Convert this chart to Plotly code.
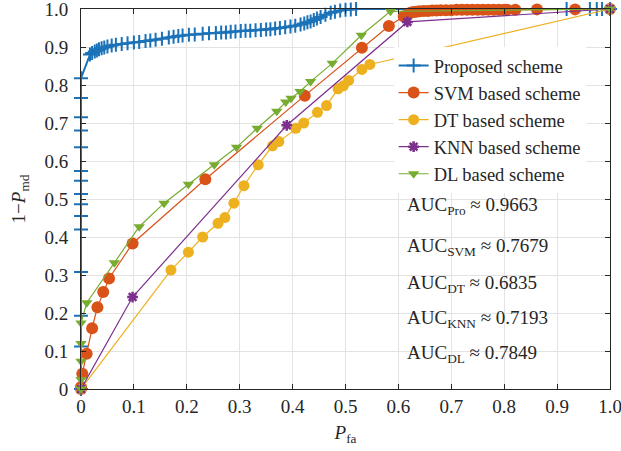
import plotly.graph_objects as go

# ---------------- data ----------------
pro_x = [0, 0, 0, 0, 0, 0, 0, 0, 0, 0, 0, 0, 0, 0, 0,
         0.017, 0.021, 0.026, 0.030, 0.034, 0.039, 0.044, 0.050, 0.058, 0.066,
         0.077, 0.088, 0.100, 0.110, 0.122, 0.131, 0.141, 0.153, 0.166, 0.175,
         0.184, 0.192, 0.204, 0.215, 0.230, 0.242, 0.255, 0.265, 0.274, 0.283,
         0.292, 0.302, 0.311, 0.320, 0.330, 0.340, 0.350, 0.358, 0.367, 0.376,
         0.386, 0.396, 0.405, 0.415, 0.422, 0.428, 0.434, 0.440, 0.446, 0.453,
         0.462, 0.472, 0.480, 0.490, 0.500, 0.510, 0.520, 0.918, 0.962, 0.975,
         0.985, 1.0]
pro_y = [0, 0.112, 0.193, 0.308, 0.420, 0.455, 0.486, 0.513, 0.548, 0.574, 0.636, 0.680, 0.715, 0.766, 0.818,
         0.880, 0.884, 0.888, 0.891, 0.894, 0.897, 0.899, 0.901, 0.904, 0.906,
         0.908, 0.910, 0.912, 0.913, 0.916, 0.917, 0.919, 0.922, 0.925, 0.927,
         0.929, 0.930, 0.932, 0.933, 0.935, 0.936, 0.937, 0.938, 0.938, 0.940,
         0.941, 0.942, 0.943, 0.943, 0.944, 0.945, 0.946, 0.947, 0.949, 0.950,
         0.952, 0.954, 0.956, 0.959, 0.962, 0.965, 0.967, 0.971, 0.975, 0.979,
         0.985, 0.990, 0.993, 0.996, 0.998, 0.999, 1.0, 1.0, 1.0, 1.0,
         1.0, 1.0]

svm_x = [0, 0, 0.0025, 0.0107, 0.021, 0.031, 0.042, 0.053, 0.0975, 0.235, 0.423, 0.531, 0.582,
         0.610, 0.618, 0.623, 0.628, 0.634, 0.640, 0.648, 0.656, 0.664, 0.672, 0.680, 0.690,
         0.700, 0.710, 0.720, 0.730, 0.740, 0.750, 0.760, 0.770, 0.780, 0.790, 0.800, 0.805,
         0.821, 0.862, 0.934, 1.0]
svm_y = [0, 0.005, 0.040, 0.093, 0.160, 0.215, 0.255, 0.291, 0.383, 0.552, 0.772, 0.898, 0.955,
         0.980, 0.986, 0.990, 0.992, 0.993, 0.994, 0.995, 0.995, 0.996, 0.996, 0.997, 0.997,
         0.997, 0.998, 0.998, 0.998, 0.998, 0.998, 0.998, 0.998, 0.998, 0.998, 0.998, 0.998,
         0.998, 0.999, 0.999, 1.0]

dt_x = [0, 0.170, 0.203, 0.230, 0.259, 0.272, 0.289, 0.308, 0.335, 0.362, 0.374, 0.406,
        0.421, 0.447, 0.464, 0.486, 0.496, 0.506, 0.531, 0.546, 1.0]
dt_y = [0, 0.313, 0.360, 0.400, 0.436, 0.451, 0.489, 0.535, 0.590, 0.640, 0.651, 0.686,
        0.700, 0.728, 0.746, 0.790, 0.798, 0.812, 0.841, 0.854, 1.0]

knn_x = [0, 0.0975, 0.389, 0.617, 1.0]
knn_y = [0, 0.242, 0.694, 0.966, 1.0]

dl_x = [0, 0, 0, 0, 0, 0.011, 0.063, 0.110, 0.157, 0.203, 0.252, 0.294, 0.333, 0.370,
        0.387, 0.397, 0.414, 0.434, 0.475, 0.530, 0.585, 1.0]
dl_y = [0, 0.025, 0.073, 0.120, 0.174, 0.227, 0.332, 0.427, 0.489, 0.539, 0.590, 0.636, 0.686, 0.731,
        0.755, 0.765, 0.783, 0.809, 0.857, 0.931, 0.994, 1.0]

tick_vals = [0, 0.1, 0.2, 0.3, 0.4, 0.5, 0.6, 0.7, 0.8, 0.9, 1.0]
tick_text = ["0", "0.1", "0.2", "0.3", "0.4", "0.5", "0.6", "0.7", "0.8", "0.9", "1.0"]

names = ["Proposed scheme", "SVM based scheme", "DT based scheme", "KNN based scheme", "DL based scheme"]
auc_labels = ["Pro", "SVM", "DT", "KNN", "DL"]
auc_values = ["0.9663", "0.7679", "0.6835", "0.7193", "0.7849"]

# ---------------- figure ----------------
FONT = "Liberation Serif, Times New Roman, serif"
TXT = "#262626"
C_BLUE, C_RED, C_YEL, C_PUR, C_GRN = "#1B72B8", "#D95319", "#EDB120", "#7E2F8E", "#77AC30"

fig = go.Figure()
fig.add_trace(go.Scatter(x=pro_x, y=pro_y, name=names[0], mode="lines+markers", cliponaxis=False,
                         line=dict(color=C_BLUE, width=2),
                         marker=dict(symbol="cross-thin", size=10, line=dict(color=C_BLUE, width=2))))
fig.add_trace(go.Scatter(x=svm_x, y=svm_y, name=names[1], mode="lines+markers", cliponaxis=False,
                         line=dict(color=C_RED, width=1.2),
                         marker=dict(symbol="circle", size=12, color=C_RED)))
fig.add_trace(go.Scatter(x=dt_x, y=dt_y, name=names[2], mode="lines+markers", cliponaxis=False,
                         line=dict(color=C_YEL, width=1.2),
                         marker=dict(symbol="circle", size=11, color=C_YEL)))
fig.add_trace(go.Scatter(x=knn_x, y=knn_y, name=names[3], mode="lines+markers", cliponaxis=False,
                         line=dict(color=C_PUR, width=1.2),
                         marker=dict(symbol="asterisk", size=9, color=C_PUR, line=dict(color=C_PUR, width=2.5))))
fig.add_trace(go.Scatter(x=dl_x, y=dl_y, name=names[4], mode="lines+markers", cliponaxis=False,
                         line=dict(color=C_GRN, width=1.2),
                         marker=dict(symbol="triangle-down", size=10, color=C_GRN)))

auc_y = [0.482, 0.373, 0.276, 0.184, 0.093]
for lab, val, yy in zip(auc_labels, auc_values, auc_y):
    fig.add_annotation(xref="paper", yref="paper", x=0.612, y=yy, xanchor="left", yanchor="middle",
                       text=f"AUC<sub>{lab}</sub> ≈ {val}", showarrow=False,
                       font=dict(family=FONT, size=19, color=TXT))

axis_common = dict(range=[0, 1], tickvals=tick_vals, ticktext=tick_text, showgrid=True,
                   gridcolor="#E3E3E3", gridwidth=1, zeroline=False, showline=True,
                   linecolor=TXT, linewidth=1, mirror="allticks", ticks="inside",
                   ticklen=5, tickcolor=TXT, automargin=False, ticklabeloverflow="allow",
                   tickfont=dict(family=FONT, size=19, color=TXT))

fig.update_layout(
    width=621, height=451,
    margin=dict(l=81, r=11, t=9, b=62),
    paper_bgcolor="white", plot_bgcolor="white",
    font=dict(family=FONT, size=19, color=TXT),
    xaxis=dict(**axis_common, title=dict(text="<i>P</i><sub>fa</sub>", standoff=9,
                                         font=dict(family=FONT, size=19))),
    yaxis=dict(**axis_common, ticklabelstandoff=8,
               title=dict(text="1−<i>P</i><sub>md</sub>", standoff=13,
                          font=dict(family=FONT, size=19))),
    legend=dict(x=0.591, y=0.90, xanchor="left", yanchor="top", bgcolor="white",
                borderwidth=0, font=dict(family=FONT, size=18.5, color=TXT),
                tracegroupgap=0, itemwidth=30),
    showlegend=True,
)

fig.write_html("out.html", post_script="document.body.style.margin='0';",
               config={"displayModeBar": False})
